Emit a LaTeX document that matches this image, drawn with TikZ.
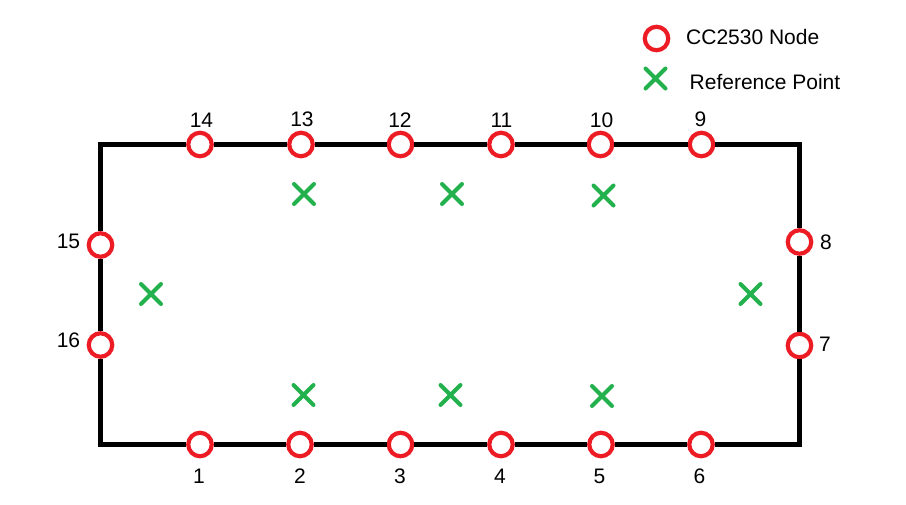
\documentclass[tikz,border=0pt]{standalone}
\usepackage{fontspec}
\setmainfont{Liberation Sans}
\definecolor{nodered}{RGB}{237,28,36}
\definecolor{refgreen}{RGB}{34,177,76}
\tikzset{
	sensor/.style={circle, draw=nodered, line width=4.2pt, fill=white, minimum size=23.5pt, inner sep=0pt},
	numlabel/.style={inner sep=0pt, font=\fontsize{21}{21}\selectfont},
	frame/.style={line width=4.5pt, black},
	refcross/.pic={\draw[refgreen, line width=4pt, line cap=round] (-10,-10) -- (10,10) (-10,10) -- (10,-10);},
}

\begin{document}
\begin{tikzpicture}[x=1pt, y=-1pt]
			%%%%% START %%%%%
			\useasboundingbox (0,0) rectangle (906,504);
			
			\coordinate (bl) at (100.5, 444.5);
			\coordinate (br) at (799.5, 444.5);
			\coordinate (tr) at (799.5, 144.5);
			\coordinate (tl) at (100.5, 144.5);
			
			% bottom row
			\node[sensor] (n1) at (200, 444.5) {};
			\node[sensor] (n2) at (300, 444.5) {};
			\node[sensor] (n3) at (400.5, 444.5) {};
			\node[sensor] (n4) at (501, 444.5) {};
			\node[sensor] (n5) at (601, 444.5) {};
			\node[sensor] (n6) at (701, 444.5) {};
			
			% right side
			\node[sensor] (n7) at (799.5, 345.5) {};
			\node[sensor] (n8) at (799.5, 242) {};
			
			% top row
			\node[sensor] (n9) at (701.5, 144.5) {};
			\node[sensor] (n10) at (600.5, 144.5) {};
			\node[sensor] (n11) at (501, 144.5) {};
			\node[sensor] (n12) at (400.5, 144.5) {};
			\node[sensor] (n13) at (301, 144.5) {};
			\node[sensor] (n14) at (200, 144.5) {};
			
			% left side
			\node[sensor] (n15) at (100.5, 245) {};
			\node[sensor] (n16) at (100.5, 345) {};
			
			\draw[frame] (n16) -- (bl) -- (n1) -- (n2) -- (n3) -- (n4) -- (n5) -- (n6) -- (br)
				-- (n7) -- (n8) -- (tr) -- (n9) -- (n10) -- (n11) -- (n12) -- (n13) -- (n14)
				-- (tl) -- (n15) -- (n16);
			
			\node[numlabel] (l1) at (199, 476) {1};
			\node[numlabel] (l2) at (300, 476) {2};
			\node[numlabel] (l3) at (400, 476.5) {3};
			\node[numlabel] (l4) at (500, 476.5) {4};
			\node[numlabel] (l5) at (599.5, 476.5) {5};
			\node[numlabel] (l6) at (699.5, 476.5) {6};
			\node[numlabel] (l7) at (825, 344) {7};
			\node[numlabel] (l8) at (826, 242) {8};
			\node[numlabel] (l9) at (700.5, 119.5) {9};
			\node[numlabel] (l10) at (601.5, 120.5) {10};
			\node[numlabel] (l11) at (501.5, 120.5) {11};
			\node[numlabel] (l12) at (400, 120.5) {12};
			\node[numlabel] (l13) at (302, 119.5) {13};
			\node[numlabel] (l14) at (201.5, 120.5) {14};
			\node[numlabel] (l15) at (68.5, 241.5) {15};
			\node[numlabel] (l16) at (68.5, 340.5) {16};
			
			% reference points
			\pic (r1) at (304, 194) {refcross};
			\pic (r2) at (452, 194) {refcross};
			\pic (r3) at (603.5, 195.5) {refcross};
			\pic (r4) at (151, 294) {refcross};
			\pic (r5) at (750.5, 294) {refcross};
			\pic (r6) at (303.5, 395) {refcross};
			\pic (r7) at (450.5, 395) {refcross};
			\pic (r8) at (602, 396) {refcross};
			
			% legend
			\node[sensor] (keynode) at (656.5, 38.5) {};
			\node[numlabel, anchor=base west] (keynodetext) at (686, 44.3) {CC2530 Node};
			\pic (keyref) at (655.5, 78.5) {refcross};
			\node[numlabel, anchor=base west] (keyreftext) at (689.5, 89) {Reference Point};
			
			%%%%% END %%%%%
\end{tikzpicture}
\end{document}
